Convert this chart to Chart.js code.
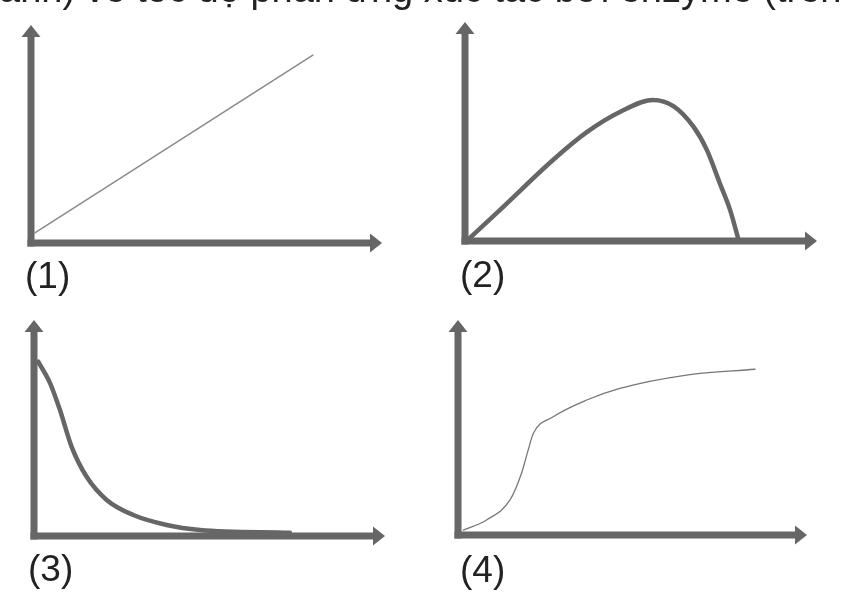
<!DOCTYPE html>
<html>
<head>
<meta charset="utf-8">
<script src="https://cdn.jsdelivr.net/npm/chart.js@4/dist/chart.umd.min.js"></script>
<style>
  html, body { margin: 0; padding: 0; background: #fff; }
  body { width: 841px; height: 595px; position: relative; overflow: hidden; }
  canvas { position: absolute; }
  .txt { position: absolute; font-family: "Liberation Sans", Arial, sans-serif; line-height: 1; white-space: nowrap; color: #222; z-index: 2; }
</style>
</head>
<body>
<div class="txt" id="title" style="left:-1px; top:-30px; font-size:38px;"></div>
<canvas id="c1" width="420" height="298" style="left:0; top:0;"></canvas>
<canvas id="c2" width="421" height="298" style="left:420px; top:0;"></canvas>
<canvas id="c3" width="420" height="297" style="left:0; top:298px;"></canvas>
<canvas id="c4" width="421" height="297" style="left:420px; top:298px;"></canvas>
<div class="txt" id="l1" style="left:25px; top:257px; font-size:37px;"></div>
<div class="txt" id="l2" style="left:460px; top:256px; font-size:37px;"></div>
<div class="txt" id="l3" style="left:28px; top:550px; font-size:37px;"></div>
<div class="txt" id="l4" style="left:460px; top:551px; font-size:37px;"></div>
<script>
// ---- data (axes run 0..100 from origin to arrow tip) ----
const titleText = "ảnh) về tốc độ phản ứng xúc tác bởi enzyme (trên";
const panelLabels = ["(1)", "(2)", "(3)", "(4)"];

const line1X = [1.1, 80.3];
const line1Y = [4.6, 86.2];

const curve2X = [1.4, 10.8, 25.0, 34.7, 44.0, 53.4, 59.2, 64.9, 68.7, 72.4, 75.3, 77.6];
const curve2Y = [1.4, 15.5, 37.0, 49.8, 58.9, 64.4, 61.6, 52.2, 41.6, 26.3, 14.2, 1.2];

const curve3X = [1.2, 4.6, 7.4, 10.7, 15.0, 20.7, 28.3, 37.8, 47.3, 72.9];
const curve3Y = [80.7, 70.7, 58.3, 41.4, 27.4, 16.7, 9.7, 5.1, 2.8, 1.5];

const curve4X = [1.5, 8.2, 14.9, 18.2, 20.1, 21.6, 27.3, 36.9, 46.4, 65.5, 85.1];
const curve4Y = [2.3, 7.0, 16.3, 28.7, 39.5, 47.3, 55.0, 62.8, 68.2, 74.4, 77.1];

// ---- text ----
document.getElementById('title').textContent = titleText;
panelLabels.forEach((t, i) => document.getElementById('l' + (i + 1)).textContent = t);

// ---- axes with arrowheads ----
const arrowAxes = {
  id: 'arrowAxes',
  beforeDatasetsDraw(chart) {
    const { ctx, chartArea: a, scales } = chart;
    const ox = scales.x.getPixelForValue(0), oy = scales.y.getPixelForValue(0);
    const w = 7, head = 11, hw = 9.5;
    ctx.save();
    ctx.fillStyle = '#666666';
    ctx.fillRect(ox - w / 2, oy - w / 2, a.right - head - (ox - w / 2), w);
    ctx.fillRect(ox - w / 2, a.top + head, w, oy + w / 2 - (a.top + head));
    ctx.beginPath();
    ctx.moveTo(a.right, oy);
    ctx.lineTo(a.right - head - 1, oy - hw);
    ctx.lineTo(a.right - head - 1, oy + hw);
    ctx.closePath();
    ctx.fill();
    ctx.beginPath();
    ctx.moveTo(ox, a.top);
    ctx.lineTo(ox - hw, a.top + head + 1);
    ctx.lineTo(ox + hw, a.top + head + 1);
    ctx.closePath();
    ctx.fill();
    ctx.restore();
  }
};

function pts(xs, ys) { return xs.map((x, i) => ({ x, y: ys[i] })); }

function makeChart(id, xs, ys, pad, lineW, color, smooth) {
  new Chart(document.getElementById(id), {
    type: 'line',
    data: {
      datasets: [{
        data: pts(xs, ys),
        borderColor: color,
        borderWidth: lineW,
        pointRadius: 0,
        fill: false,
        cubicInterpolationMode: smooth ? 'monotone' : 'default',
        tension: 0,
        borderCapStyle: 'round',
        borderJoinStyle: 'round',
        clip: false
      }]
    },
    options: {
      responsive: false,
      animation: false,
      events: [],
      layout: { padding: pad },
      plugins: { legend: { display: false }, tooltip: { enabled: false }, title: { display: false } },
      scales: {
        x: { type: 'linear', min: 0, max: 100, display: false },
        y: { type: 'linear', min: 0, max: 100, display: false }
      }
    },
    plugins: [arrowAxes]
  });
}

makeChart('c1', line1X, line1Y, { left: 31, right: 38, top: 25, bottom: 55 }, 1.5, '#8a8a8a', false);
makeChart('c2', curve2X, curve2Y, { left: 45, right: 24, top: 22, bottom: 57 }, 4.5, '#666666', true);
makeChart('c3', curve3X, curve3Y, { left: 34, right: 35, top: 22, bottom: 59 }, 4.5, '#666666', true);
makeChart('c4', curve4X, curve4Y, { left: 38, right: 34, top: 22, bottom: 60 }, 1.3, '#777777', true);
</script>
</body>
</html>
